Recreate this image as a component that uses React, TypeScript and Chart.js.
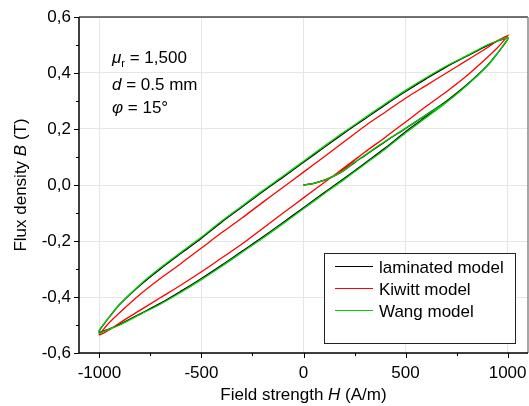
import React, { useEffect, useRef } from "react";
import { Chart, registerables } from "chart.js";
Chart.register(...registerables);

// Field strength grid for descending branch (A/m)
const H_DOWN = [1000, 975, 950, 900, 800, 700, 600, 500, 400, 300, 200, 100, 0, -100, -200, -300, -400, -500, -600, -700, -800, -900, -950, -975, -1000];
// Field strength grid for ascending branch (A/m)
const H_UP = [-1000, -975, -950, -900, -800, -700, -600, -500, -400, -300, -200, -100, 0, 100, 200, 300, 400, 500, 600, 700, 800, 900, 950, 975, 1000];

// laminated model
const LAM_DOWN = [0.527, 0.52, 0.514, 0.498, 0.46, 0.422, 0.379, 0.334, 0.286, 0.236, 0.186, 0.134, 0.081, 0.028, -0.024, -0.078, -0.132, -0.19, -0.244, -0.299, -0.358, -0.426, -0.47, -0.494, -0.52];
const LAM_UP = [-0.527, -0.52, -0.514, -0.498, -0.46, -0.422, -0.379, -0.334, -0.286, -0.236, -0.186, -0.134, -0.081, -0.028, 0.024, 0.078, 0.132, 0.19, 0.244, 0.299, 0.358, 0.426, 0.47, 0.494, 0.52];
const LAM_INIT_H = [0, 40, 80, 120, 160, 200, 250, 300, 400, 500, 600, 700];
const LAM_INIT_B = [0, 0.004, 0.012, 0.022, 0.036, 0.053, 0.08, 0.105, 0.155, 0.202, 0.25, 0.299];

// Kiwitt model
const KIW_DOWN = [0.533, 0.525, 0.515, 0.49, 0.445, 0.4, 0.355, 0.31, 0.26, 0.21, 0.155, 0.1, 0.046, -0.008, -0.062, -0.117, -0.17, -0.225, -0.28, -0.333, -0.39, -0.455, -0.49, -0.511, -0.533];
const KIW_UP = [-0.535, -0.527, -0.517, -0.492, -0.447, -0.402, -0.357, -0.31, -0.26, -0.21, -0.155, -0.1, -0.046, 0.008, 0.062, 0.117, 0.17, 0.225, 0.28, 0.333, 0.39, 0.455, 0.49, 0.51, 0.533];
const KIW_INIT_H = [0, 40, 80, 120, 160, 200, 250, 300];
const KIW_INIT_B = [0, 0.004, 0.012, 0.023, 0.037, 0.057, 0.088, 0.117];

// Wang model
const WANG_DOWN = [0.527, 0.521, 0.515, 0.5, 0.462, 0.425, 0.383, 0.338, 0.29, 0.24, 0.19, 0.138, 0.085, 0.032, -0.02, -0.074, -0.128, -0.186, -0.24, -0.295, -0.355, -0.425, -0.47, -0.493, -0.518];
const WANG_UP = [-0.53, -0.522, -0.515, -0.5, -0.462, -0.425, -0.383, -0.338, -0.29, -0.24, -0.19, -0.138, -0.085, -0.032, 0.02, 0.074, 0.128, 0.186, 0.24, 0.295, 0.355, 0.425, 0.47, 0.495, 0.52];
const WANG_INIT_H = [0, 40, 80, 120, 160, 200, 250, 300, 400, 500, 600, 700];
const WANG_INIT_B = [0, 0.004, 0.012, 0.022, 0.036, 0.053, 0.081, 0.106, 0.156, 0.203, 0.25, 0.295];

const SERIES_LABELS = ["laminated model", "Kiwitt model", "Wang model"];
const SERIES_COLORS = ["#000000", "#ff0000", "#00d000"];

const X_TICKS = [-1000, -500, 0, 500, 1000];
const X_MINOR = [-750, -250, 250, 750];
const Y_TICKS = [-0.6, -0.4, -0.2, 0, 0.2, 0.4, 0.6];
const Y_MINOR = [-0.5, -0.3, -0.1, 0.1, 0.3, 0.5];

const FONT = "'Liberation Sans', Arial, Helvetica, sans-serif";

function buildPath(initH: number[], initB: number[], upB: number[], downB: number[]) {
  const pts = initH.map((h, i) => ({ x: h, y: initB[i] }));
  const last = initH[initH.length - 1];
  H_UP.forEach((h, i) => { if (h > last) pts.push({ x: h, y: upB[i] }); });
  H_DOWN.forEach((h, i) => pts.push({ x: h, y: downB[i] }));
  H_UP.forEach((h, i) => pts.push({ x: h, y: upB[i] }));
  return pts;
}

const decor = {
  id: "decor",
  afterDraw(chart: any) {
    const ctx = chart.ctx as CanvasRenderingContext2D;
    const { left, right, top, bottom } = chart.chartArea;
    const xs = chart.scales.x;
    const ys = chart.scales.y;
    ctx.save();
    // frame
    ctx.lineWidth = 1.5;
    ctx.strokeStyle = "#444";
    ctx.beginPath(); ctx.moveTo(left, top); ctx.lineTo(right, top); ctx.stroke();
    ctx.strokeStyle = "#888";
    ctx.beginPath(); ctx.moveTo(right, top); ctx.lineTo(right, bottom); ctx.stroke();
    ctx.strokeStyle = "#000";
    ctx.beginPath(); ctx.moveTo(left, top); ctx.lineTo(left, bottom); ctx.lineTo(right, bottom); ctx.stroke();
    // ticks
    ctx.lineWidth = 1;
    ctx.beginPath();
    X_TICKS.forEach(v => { const p = Math.round(xs.getPixelForValue(v)) + 0.5; ctx.moveTo(p, bottom); ctx.lineTo(p, bottom + 5); });
    X_MINOR.forEach(v => { const p = Math.round(xs.getPixelForValue(v)) + 0.5; ctx.moveTo(p, bottom); ctx.lineTo(p, bottom + 3); });
    Y_TICKS.forEach(v => { const p = Math.round(ys.getPixelForValue(v)) + 0.5; ctx.moveTo(left, p); ctx.lineTo(left - 5, p); });
    Y_MINOR.forEach(v => { const p = Math.round(ys.getPixelForValue(v)) + 0.5; ctx.moveTo(left, p); ctx.lineTo(left - 3, p); });
    ctx.stroke();

    ctx.fillStyle = "#000";
    ctx.textAlign = "left";
    ctx.textBaseline = "alphabetic";
    // parameter annotations
    const ax = 112;
    ctx.font = `italic 17px ${FONT}`;
    ctx.fillText("μ", ax, 63);
    let w = ctx.measureText("μ").width;
    ctx.font = `11px ${FONT}`;
    ctx.fillText("r", ax + w, 67);
    const wr = ctx.measureText("r").width;
    ctx.font = `17px ${FONT}`;
    ctx.fillText(" = 1,500", ax + w + wr, 63);

    ctx.font = `italic 17px ${FONT}`;
    ctx.fillText("d", ax, 89.5);
    w = ctx.measureText("d").width;
    ctx.font = `17px ${FONT}`;
    ctx.fillText(" = 0.5 mm", ax + w, 89.5);

    ctx.font = `italic 17px ${FONT}`;
    ctx.fillText("φ", ax, 113);
    w = ctx.measureText("φ").width;
    ctx.font = `17px ${FONT}`;
    ctx.fillText(" = 15°", ax + w, 113);

    // axis titles
    const drawMixed = (parts: [string, boolean][], cx: number, cy: number) => {
      let total = 0;
      const widths = parts.map(([t, it]) => {
        ctx.font = `${it ? "italic " : ""}17px ${FONT}`;
        const ww = ctx.measureText(t).width;
        total += ww;
        return ww;
      });
      let x = cx - total / 2;
      parts.forEach(([t, it], i) => {
        ctx.font = `${it ? "italic " : ""}17px ${FONT}`;
        ctx.fillText(t, x, cy);
        x += widths[i];
      });
    };
    drawMixed([["Field strength ", false], ["H", true], [" (A/m)", false]], (left + right) / 2, 400);

    ctx.save();
    ctx.translate(26, (top + bottom) / 2);
    ctx.rotate(-Math.PI / 2);
    drawMixed([["Flux density ", false], ["B", true], [" (T)", false]], 0, 0);
    ctx.restore();

    // legend
    const lx = 324, ly = 253, lw = 191, lh = 90;
    ctx.fillStyle = "#fff";
    ctx.fillRect(lx, ly, lw, lh);
    ctx.strokeStyle = "#222";
    ctx.lineWidth = 1;
    ctx.strokeRect(lx + 0.5, ly + 0.5, lw, lh);
    SERIES_LABELS.forEach((lab, i) => {
      const yy = 266 + i * 22;
      ctx.strokeStyle = SERIES_COLORS[i];
      ctx.lineWidth = 1.2;
      ctx.beginPath(); ctx.moveTo(335, yy + 0.5); ctx.lineTo(373, yy + 0.5); ctx.stroke();
      ctx.fillStyle = "#000";
      ctx.font = `17px ${FONT}`;
      ctx.fillText(lab, 379, yy + 6.5);
    });
    ctx.restore();
  },
};

export default function App() {
  const ref = useRef<HTMLCanvasElement | null>(null);
  useEffect(() => {
    if (!ref.current) return;
    const datasets = [
      { label: SERIES_LABELS[0], data: buildPath(LAM_INIT_H, LAM_INIT_B, LAM_UP, LAM_DOWN), borderColor: SERIES_COLORS[0], order: 3 },
      { label: SERIES_LABELS[1], data: buildPath(KIW_INIT_H, KIW_INIT_B, KIW_UP, KIW_DOWN), borderColor: SERIES_COLORS[1], order: 2 },
      { label: SERIES_LABELS[2], data: buildPath(WANG_INIT_H, WANG_INIT_B, WANG_UP, WANG_DOWN), borderColor: SERIES_COLORS[2], order: 1 },
    ].map(d => ({ ...d, showLine: true, pointRadius: 0, borderWidth: 1.3, tension: 0.3, fill: false }));

    const chart = new Chart(ref.current, {
      type: "scatter",
      data: { datasets } as any,
      plugins: [decor],
      options: {
        animation: false,
        responsive: false,
        maintainAspectRatio: false,
        devicePixelRatio: 1,
        layout: { padding: { top: 17, right: 1, left: 0, bottom: 0 } },
        plugins: { legend: { display: false }, tooltip: { enabled: false } },
        scales: {
          x: {
            type: "linear",
            min: -1100,
            max: 1100,
            afterBuildTicks: (s: any) => { s.ticks = X_TICKS.map(v => ({ value: v })); },
            afterFit: (s: any) => { s.height = 53; s.paddingLeft = 0; s.paddingRight = 0; },
            grid: { color: "#e6e6e6", drawTicks: false, lineWidth: 1 },
            border: { display: false },
            ticks: {
              padding: 10,
              color: "#000",
              font: { family: FONT, size: 17 },
              maxRotation: 0,
              autoSkip: false,
              callback: (v: any) => String(v),
            },
          },
          y: {
            type: "linear",
            min: -0.6,
            max: 0.6,
            afterBuildTicks: (s: any) => { s.ticks = Y_TICKS.map(v => ({ value: v })); },
            afterFit: (s: any) => { s.width = 79; s.paddingTop = 0; s.paddingBottom = 0; },
            grid: { color: "#e6e6e6", drawTicks: false, lineWidth: 1 },
            border: { display: false },
            ticks: {
              padding: 8,
              color: "#000",
              font: { family: FONT, size: 17 },
              autoSkip: false,
              callback: (v: any) => Number(v).toFixed(1).replace(".", ","),
            },
          },
        },
      } as any,
    });
    return () => chart.destroy();
  }, []);
  return (
    <div style={{ position: "fixed", left: 0, top: 0, width: 529, height: 406, background: "#fff" }}>
      <canvas ref={ref} width={529} height={406} style={{ display: "block", width: 529, height: 406 }} />
    </div>
  );
}
